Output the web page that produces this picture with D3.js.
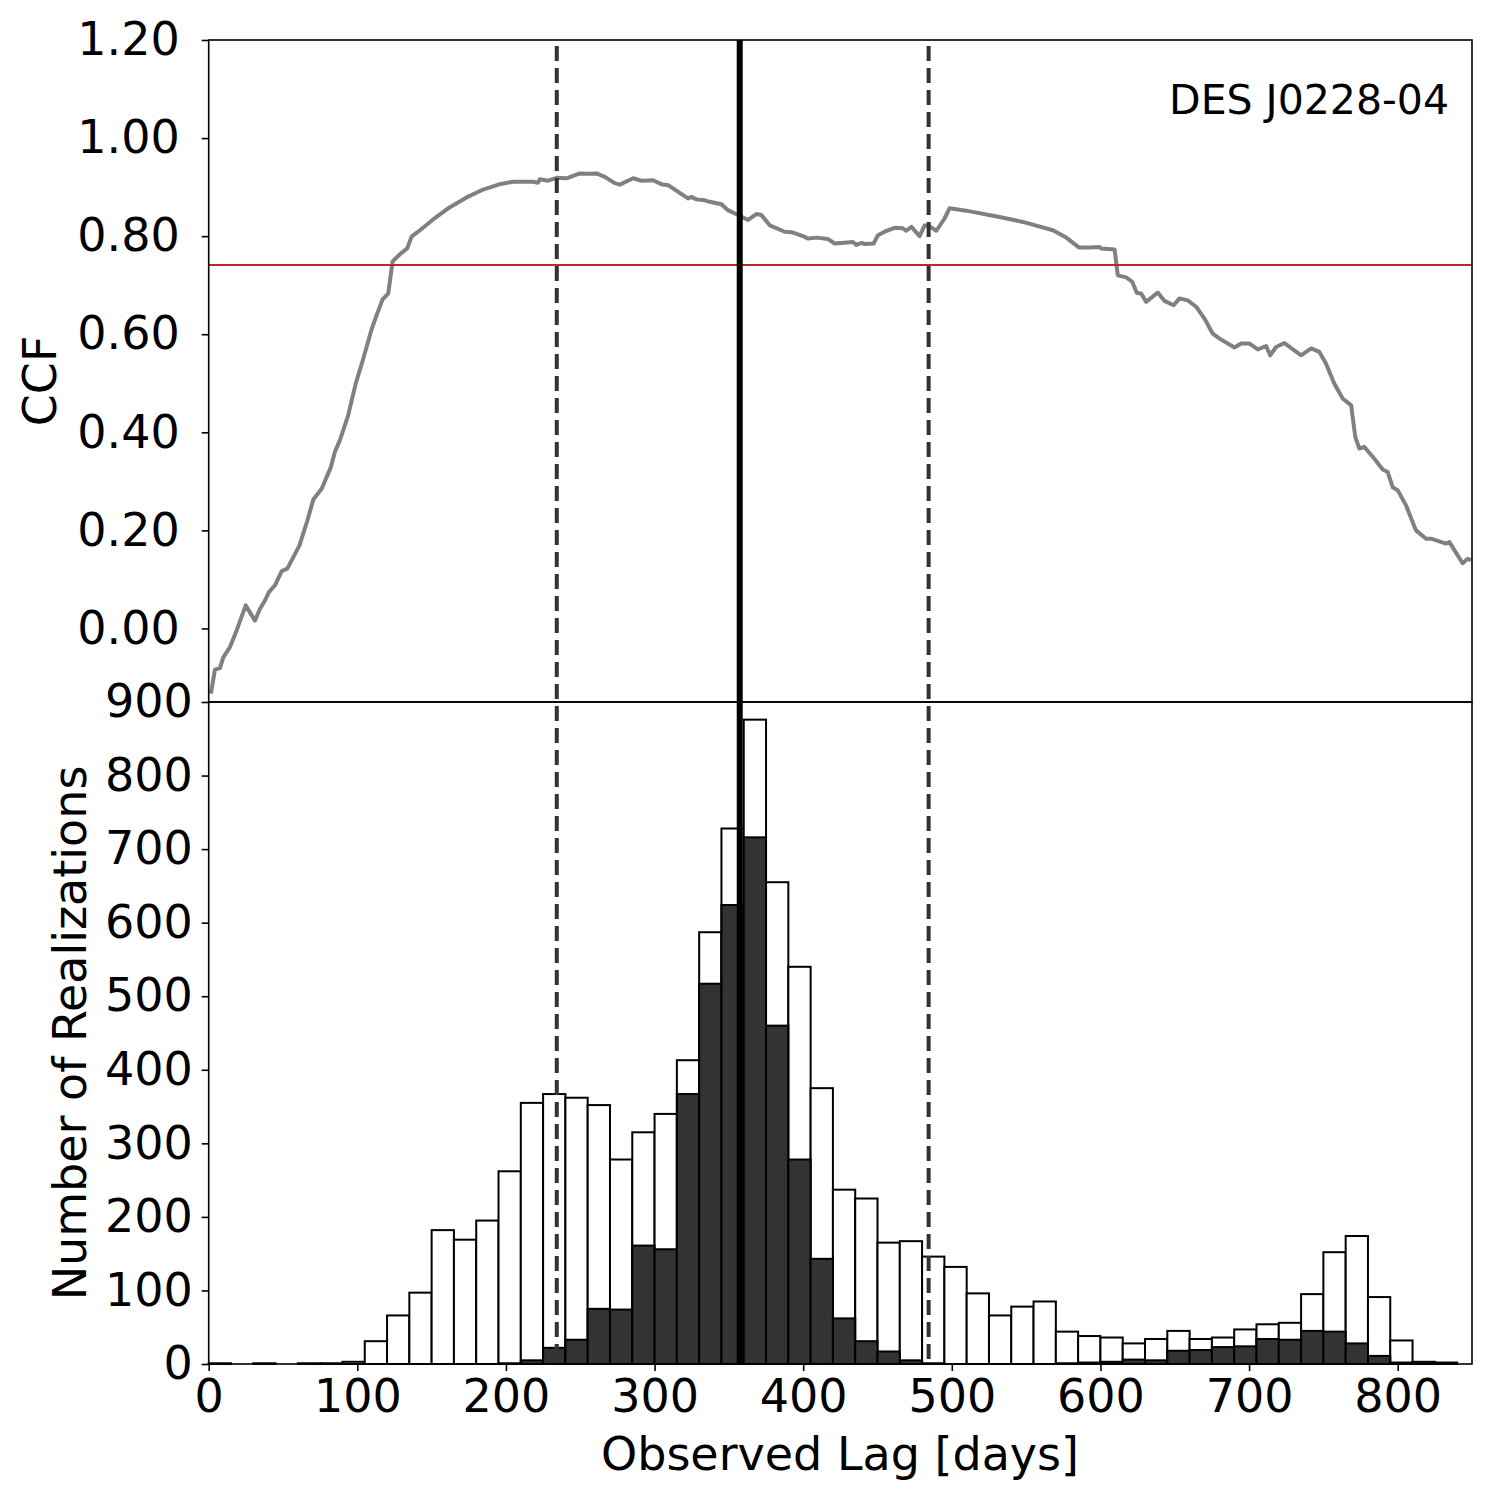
<!DOCTYPE html>
<html>
<head>
<meta charset="utf-8">
<script src="https://cdn.jsdelivr.net/npm/d3@7"></script>
<style>
  body { margin: 0; background: #fff; }
  svg { display: block; font-family: "DejaVu Sans", sans-serif; }
</style>
</head>
<body>
<div id="chart"></div>
<script>
// ---------- data ----------
const binStarts = [0,15,30,45,60,75,90,105,120,135,150,165,180,195,210,225,240,255,270,285,300,315,330,345,360,375,390,405,420,435,450,465,480,495,510,525,540,555,570,585,600,615,630,645,660,675,690,705,720,735,750,765,780,795,810,825];
const binWidth = 15;
const allCounts = [1,0,1,0,1,1,3,31,66,97,182,169,195,262,355,367,362,352,278,315,340,413,587,728,876,655,540,375,237,225,165,167,146,132,96,66,78,85,44,38,36,28,34,45,34,36,47,54,56,95,152,174,91,32,3,2];
const selCounts = [0,0,0,0,0,0,0,0,0,0,0,0,0,1,5,22,33,75,74,161,156,367,517,624,716,460,278,143,62,31,17,5,1,0,0,0,0,0,1,2,3,6,5,18,19,23,24,34,33,45,44,28,11,2,1,1];

const ccfLag = [1.5,4.2,7.6,9.8,14.3,18.8,24.9,31.1,34.5,37.9,40.5,44.6,49.1,52.9,61,66.3,70.4,76,82.2,84.9,88.3,93.9,96.2,99,104,109.6,113,117,120.8,123.7,124.8,129.8,133.6,136.5,142.1,151,162.3,173.5,184.7,195.9,204.8,218.3,221.5,222.8,228.4,234,240.8,249.7,255.3,260.9,266.5,273.2,276.6,285.6,291.2,299,304.6,309.1,322.5,324.8,328.2,333.8,337.1,345,349.4,356.2,362.9,368.5,371.9,377.5,387.6,392.1,399.9,403.3,408.9,416.7,421.2,433.5,435.8,439.1,441.4,447.4,450.3,454.8,461.5,467.1,469.4,472.8,478.3,481.7,485.1,489.6,495.1,498.5,509.7,532.1,547.8,568,577,585.5,592.7,599.4,600.5,609.5,611.7,617.3,621.4,624.5,627.4,630.8,638.6,643.1,649.2,653.2,658.8,664.4,670,675.6,680.1,690.2,694.7,700.3,705.9,711.5,714.2,718.2,723.8,735,741.8,747.3,751.8,757.4,763,768.7,771.5,774.2,777.6,784.3,789.9,793.3,796.6,800,805.6,812.3,819.1,822.4,832.5,834.8,843.7,847.1,849.3];
const ccfVal = [-0.133,-0.084,-0.081,-0.059,-0.038,-0.004,0.047,0.016,0.040,0.057,0.074,0.088,0.117,0.122,0.169,0.219,0.263,0.285,0.329,0.36,0.384,0.435,0.465,0.50,0.55,0.610,0.639,0.671,0.683,0.748,0.752,0.766,0.775,0.799,0.812,0.834,0.859,0.879,0.895,0.906,0.911,0.911,0.909,0.916,0.913,0.919,0.918,0.928,0.927,0.928,0.921,0.908,0.905,0.918,0.913,0.914,0.906,0.904,0.877,0.880,0.875,0.873,0.870,0.865,0.853,0.843,0.833,0.845,0.843,0.822,0.809,0.808,0.80,0.795,0.797,0.794,0.785,0.788,0.782,0.786,0.784,0.785,0.802,0.809,0.817,0.816,0.811,0.819,0.80,0.822,0.820,0.811,0.836,0.857,0.852,0.839,0.829,0.812,0.797,0.777,0.777,0.778,0.775,0.773,0.720,0.716,0.707,0.684,0.683,0.666,0.685,0.668,0.659,0.673,0.669,0.656,0.632,0.601,0.591,0.573,0.581,0.581,0.569,0.576,0.557,0.574,0.582,0.557,0.571,0.564,0.540,0.499,0.469,0.455,0.390,0.367,0.37,0.346,0.324,0.319,0.288,0.282,0.251,0.20,0.183,0.183,0.173,0.176,0.133,0.142,0.139];

const ccfThreshold = 0.741;
const lagMedian = 357.3;
const lagLow = 234.2;
const lagHigh = 484.4;

const xTicks = [0,100,200,300,400,500,600,700,800];
const ccfTicks = [0.0,0.2,0.4,0.6,0.8,1.0,1.2];
const countTicks = [0,100,200,300,400,500,600,700,800,900];
const objectName = "DES J0228-04";

// ---------- layout ----------
const W = 1500, H = 1500;
const L = 208.7, R = 1472, T = 40, MID = 702, B = 1364;
const FS = 46;

const svg = d3.select("#chart").append("svg").attr("width", W).attr("height", H);

const x = d3.scaleLinear().domain([0, 850]).range([L, R]);
const yTop = d3.scaleLinear().domain([-0.15, 1.2]).range([MID, T]);
const yBot = d3.scaleLinear().domain([0, 900]).range([B, MID]);

// ---------- histogram ----------
const bars = binStarts.map((s, i) => ({ s, all: allCounts[i], sel: selCounts[i] }));
const gH = svg.append("g");
gH.selectAll("rect.all").data(bars.filter(d => d.all > 0)).join("rect")
  .attr("class", "all")
  .attr("x", d => x(d.s))
  .attr("width", d => x(d.s + binWidth) - x(d.s))
  .attr("y", d => yBot(d.all))
  .attr("height", d => yBot(0) - yBot(d.all))
  .attr("fill", "#ffffff").attr("stroke", "#000").attr("stroke-width", 2);
gH.selectAll("rect.sel").data(bars.filter(d => d.sel > 0)).join("rect")
  .attr("class", "sel")
  .attr("x", d => x(d.s))
  .attr("width", d => x(d.s + binWidth) - x(d.s))
  .attr("y", d => yBot(d.sel))
  .attr("height", d => yBot(0) - yBot(d.sel))
  .attr("fill", "#333333").attr("stroke", "#000").attr("stroke-width", 2);

// ---------- CCF ----------
const ccfPts = ccfLag.map((l, i) => [l, ccfVal[i]]);
svg.append("path")
  .datum(ccfPts)
  .attr("d", d3.line().x(d => x(d[0])).y(d => yTop(d[1])))
  .attr("fill", "none").attr("stroke", "#808080").attr("stroke-width", 4)
  .attr("stroke-linejoin", "round");

// threshold
svg.append("line")
  .attr("x1", L).attr("x2", R)
  .attr("y1", yTop(ccfThreshold)).attr("y2", yTop(ccfThreshold))
  .attr("stroke", "#c0262d").attr("stroke-width", 2);

// vertical lines
[lagLow, lagHigh].forEach(v => {
  svg.append("line")
    .attr("x1", x(v)).attr("x2", x(v)).attr("y1", T + 6).attr("y2", B)
    .attr("stroke", "#333333").attr("stroke-width", 4)
    .attr("stroke-dasharray", "15,7");
});
svg.append("line")
  .attr("x1", x(lagMedian)).attr("x2", x(lagMedian)).attr("y1", T).attr("y2", B)
  .attr("stroke", "#000").attr("stroke-width", 6);

// ---------- frames ----------
svg.append("rect").attr("x", L).attr("y", T).attr("width", R - L).attr("height", MID - T)
  .attr("fill", "none").attr("stroke", "#000").attr("stroke-width", 1.6);
svg.append("rect").attr("x", L).attr("y", MID).attr("width", R - L).attr("height", B - MID)
  .attr("fill", "none").attr("stroke", "#000").attr("stroke-width", 1.6);

// ---------- axes ----------
function styleAxis(g) {
  g.select(".domain").remove();
  g.selectAll(".tick line").attr("stroke", "#000").attr("stroke-width", 1.6);
  g.selectAll(".tick text").attr("fill", "#000").attr("font-size", FS)
    .attr("font-family", "DejaVu Sans, sans-serif");
}
const axTop = svg.append("g").attr("transform", `translate(${L},0)`)
  .call(d3.axisLeft(yTop).tickValues(ccfTicks).tickFormat(d3.format(".2f")).tickSize(7).tickPadding(22));
styleAxis(axTop);
const axBot = svg.append("g").attr("transform", `translate(${L},0)`)
  .call(d3.axisLeft(yBot).tickValues(countTicks).tickFormat(d3.format("d")).tickSize(7).tickPadding(9));
styleAxis(axBot);
const axX = svg.append("g").attr("transform", `translate(0,${B})`)
  .call(d3.axisBottom(x).tickValues(xTicks).tickFormat(d3.format("d")).tickSize(7).tickPadding(6));
styleAxis(axX);
axX.selectAll(".tick text").attr("dy", "0.76em");

// ---------- labels ----------
svg.append("text").attr("transform", "translate(56,381) rotate(-90)")
  .attr("text-anchor", "middle").attr("font-size", FS).text("CCF");
svg.append("text").attr("transform", "translate(86,1033) rotate(-90)")
  .attr("text-anchor", "middle").attr("font-size", FS).text("Number of Realizations");
svg.append("text").attr("x", 840).attr("y", 1470)
  .attr("text-anchor", "middle").attr("font-size", FS).text("Observed Lag [days]");
svg.append("text").attr("x", 1449).attr("y", 114)
  .attr("text-anchor", "end").attr("font-size", 41).text(objectName);
</script>
</body>
</html>
